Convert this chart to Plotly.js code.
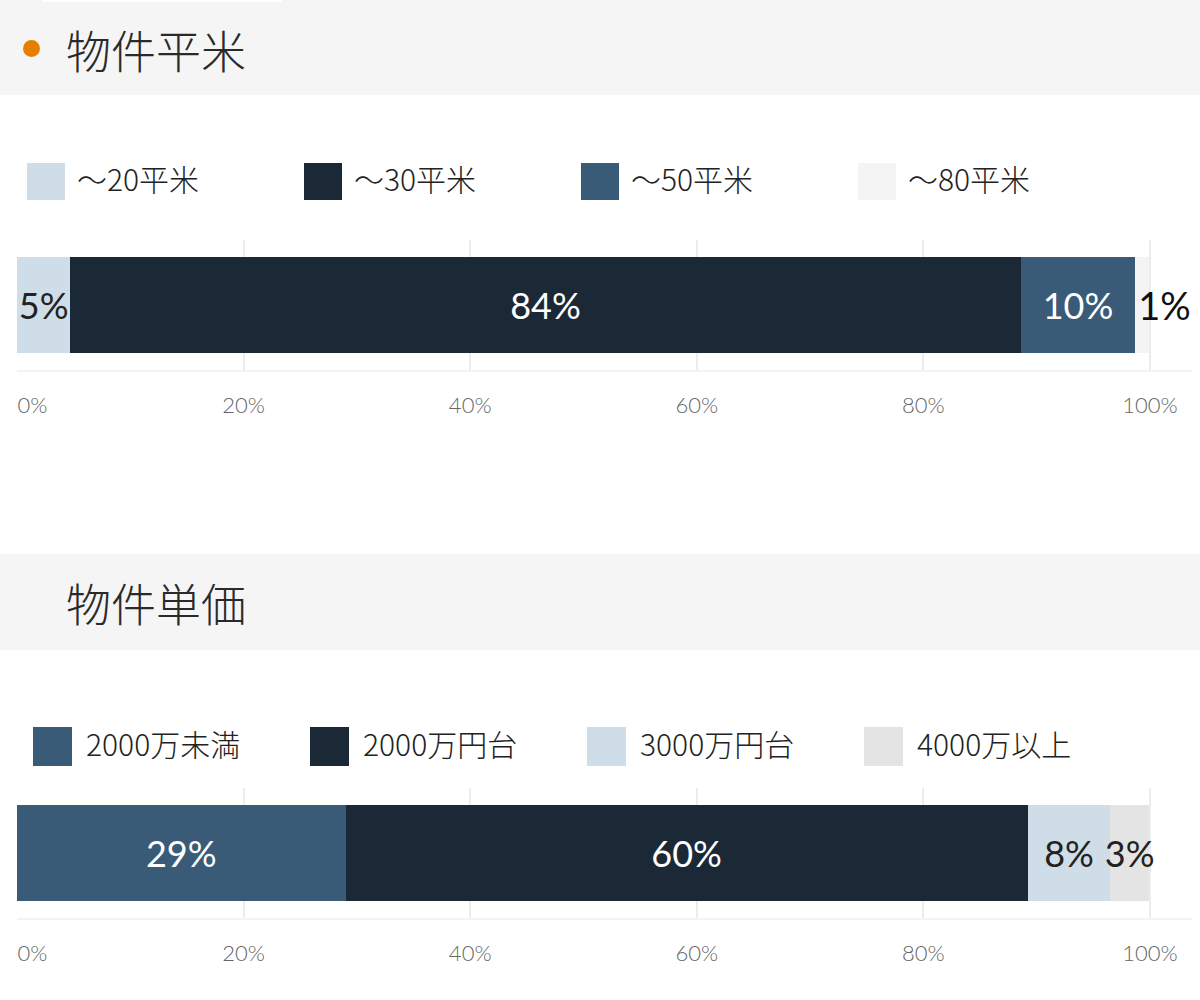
<!DOCTYPE html>
<html>
<head>
<meta charset="utf-8">
<script src="https://cdn.plot.ly/plotly-3.0.1.min.js"></script>
<style>
  html, body { margin: 0; padding: 0; background: #ffffff; }
  #chart { width: 1200px; height: 1000px; }
</style>
</head>
<body>
<div id="chart"></div>
<script>
// ---------- data ----------
const sectionTitles = ['物件平米', '物件単価'];

const sizeCategories = ['～20平米', '～30平米', '～50平米', '～80平米'];
const sizeValues = [4.7, 83.9, 10.1, 1.2];
const sizeLabels = ['5%', '84%', '10%', '1%'];

const priceCategories = ['2000万未満', '2000万円台', '3000万円台', '4000万以上'];
const priceValues = [29.0, 60.2, 7.3, 3.4];
const priceLabels = ['29%', '60%', '8%', '3%'];

const tickValues = [0, 20, 40, 60, 80, 100];
const tickLabels = ['0%', '20%', '40%', '60%', '80%', '100%'];

// ---------- styles ----------
const sizeColors = ['#cfdde8', '#1b2937', '#3a5b77', '#f4f4f4'];
const sizeTextColors = ['#222222', '#ffffff', '#ffffff', '#111111'];
const priceColors = ['#3a5b77', '#1b2937', '#cfdde8', '#e4e4e4'];
const priceTextColors = ['#ffffff', '#ffffff', '#222222', '#222222'];

const W = 1200, H = 1000;
const px = v => v / W;
const py = v => 1 - v / H;
const CJK = '"Noto Sans CJK JP", "Noto Sans", sans-serif';
const NUM = 'Lato, "Noto Sans", sans-serif';

const traces = [];
function addBars(cats, vals, labels, colors, textColors, xa, ya, rowName, specialLast) {
  cats.forEach((c, i) => {
    const isSpecial = specialLast && i === cats.length - 1;
    traces.push({
      type: 'bar',
      orientation: 'h',
      name: c,
      x: [vals[i]],
      y: [rowName],
      xaxis: xa,
      yaxis: ya,
      text: [labels[i]],
      textposition: 'inside',
      insidetextanchor: isSpecial ? 'start' : 'middle',
      constraintext: 'none',
      textangle: 0,
      cliponaxis: !isSpecial,
      textfont: { family: NUM, size: isSpecial ? 38 : 36, color: textColors[i] },
      marker: { color: colors[i], line: { width: 0 } },
      hoverinfo: 'skip',
      showlegend: false
    });
  });
}
addBars(sizeCategories, sizeValues, sizeLabels, sizeColors, sizeTextColors, 'x', 'y', sectionTitles[0], true);
addBars(priceCategories, priceValues, priceLabels, priceColors, priceTextColors, 'x2', 'y2', sectionTitles[1], false);

const xDomain = [px(17), px(1192)];
const xMax = 100 * (1192 - 17) / (1150 - 17);
const tickFont = { family: NUM, size: 22, color: '#666666', weight: 300 };

// main axes: labels centred on ticks (first label drawn by the overlay axis)
function xAxis(anchor) {
  return {
    domain: xDomain,
    anchor: anchor,
    range: [0, xMax],
    tickmode: 'array',
    tickvals: tickValues.slice(1),
    ticktext: tickLabels.slice(1),
    showgrid: true,
    gridcolor: '#ececec',
    gridwidth: 2,
    zeroline: false,
    showline: true,
    linecolor: '#f3f3f3',
    linewidth: 2,
    ticks: 'outside',
    ticklen: 15,
    tickcolor: 'rgba(0,0,0,0)',
    tickfont: tickFont,
    fixedrange: true
  };
}
// overlay axes: the 0% label, left-aligned at its tick as in the reference
function xAxisStart(anchor, overlay) {
  return {
    domain: xDomain,
    anchor: anchor,
    overlaying: overlay,
    range: [0, xMax],
    tickmode: 'array',
    tickvals: tickValues.slice(0, 1),
    ticktext: tickLabels.slice(0, 1),
    ticklabelposition: 'outside right',
    ticklabelstandoff: 16,
    showgrid: true,
    gridcolor: '#ececec',
    gridwidth: 2,
    zeroline: false,
    showline: false,
    ticks: 'outside',
    ticklen: 15,
    tickcolor: 'rgba(0,0,0,0)',
    tickfont: tickFont,
    fixedrange: true
  };
}
function yAxis(anchor, top, bottom) {
  return {
    domain: [py(bottom), py(top)],
    anchor: anchor,
    showticklabels: false,
    showgrid: false,
    zeroline: false,
    showline: false,
    ticks: '',
    fixedrange: true
  };
}

// invisible helper traces so the overlay axes are drawn
traces.push({ type: 'scatter', x: [0], y: [sectionTitles[0]], xaxis: 'x3', yaxis: 'y',
  mode: 'markers', marker: { opacity: 0 }, hoverinfo: 'skip', showlegend: false });
traces.push({ type: 'scatter', x: [0], y: [sectionTitles[1]], xaxis: 'x4', yaxis: 'y2',
  mode: 'markers', marker: { opacity: 0 }, hoverinfo: 'skip', showlegend: false });

const shapes = [
  { type: 'rect', xref: 'paper', yref: 'paper', x0: 0, x1: 1, y0: py(95), y1: 1,
    fillcolor: '#f5f5f5', line: { width: 0 }, layer: 'below' },
  { type: 'rect', xref: 'paper', yref: 'paper', x0: px(42), x1: px(282), y0: py(2), y1: 1,
    fillcolor: '#ffffff', line: { width: 0 }, layer: 'below' },
  { type: 'rect', xref: 'paper', yref: 'paper', x0: 0, x1: 1, y0: py(650), y1: py(554),
    fillcolor: '#f5f5f5', line: { width: 0 }, layer: 'below' },
  { type: 'circle', xref: 'paper', yref: 'paper', x0: px(23), x1: px(40), y0: py(57), y1: py(40),
    fillcolor: '#e67e00', line: { width: 0 } }
];

const annotations = [
  { xref: 'paper', yref: 'paper', x: px(64), y: py(49), xanchor: 'left', yanchor: 'middle',
    text: sectionTitles[0], showarrow: false, font: { family: CJK, size: 45, color: '#2a2a2a', weight: 300 } },
  { xref: 'paper', yref: 'paper', x: px(64), y: py(602), xanchor: 'left', yanchor: 'middle',
    text: sectionTitles[1], showarrow: false, font: { family: CJK, size: 45, color: '#2a2a2a', weight: 300 } }
];

function addLegend(cats, colors, startX, step, topY, sw, sh, textOffset, textY) {
  cats.forEach((c, i) => {
    const x0 = startX + i * step;
    shapes.push({ type: 'rect', xref: 'paper', yref: 'paper',
      x0: px(x0), x1: px(x0 + sw), y0: py(topY + sh), y1: py(topY),
      fillcolor: colors[i], line: { width: 0 } });
    annotations.push({ xref: 'paper', yref: 'paper', x: px(x0 + textOffset), y: py(textY),
      xanchor: 'left', yanchor: 'middle', text: c, showarrow: false,
      font: { family: CJK, size: 30, color: '#222222', weight: 300 } });
  });
}
addLegend(sizeCategories, sizeColors, 27, 277, 163, 38, 37, 48, 178);
addLegend(priceCategories, priceColors, 33, 277, 727, 39, 39, 51, 743);

const layout = {
  width: W,
  height: H,
  margin: { l: 0, r: 0, t: 0, b: 0, pad: 0 },
  paper_bgcolor: '#ffffff',
  plot_bgcolor: 'rgba(0,0,0,0)',
  barmode: 'stack',
  bargap: 0.26,
  showlegend: false,
  hovermode: false,
  xaxis: xAxis('y'),
  yaxis: yAxis('x', 240, 370),
  xaxis2: xAxis('y2'),
  yaxis2: yAxis('x2', 788, 918),
  xaxis3: xAxisStart('y', 'x'),
  xaxis4: xAxisStart('y2', 'x2'),
  shapes: shapes,
  annotations: annotations
};

Plotly.newPlot('chart', traces, layout, { displayModeBar: false, staticPlot: true, responsive: false });
</script>
</body>
</html>
